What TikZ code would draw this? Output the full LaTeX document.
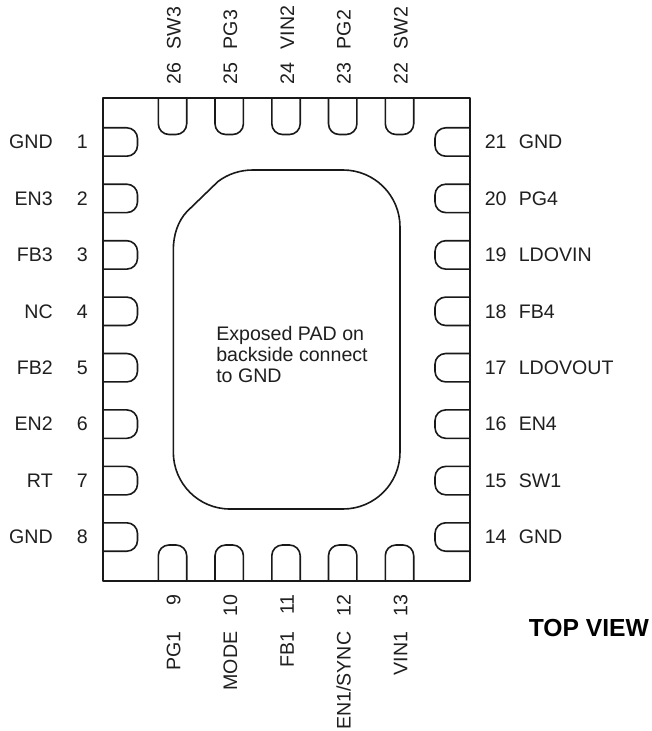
\documentclass[tikz,border=0pt]{standalone}
\usepackage{fontspec}
\setmainfont{Liberation Sans}
\tikzset{
  x=0.75pt,y=-0.75pt,
  ln/.style={draw=black!90,line width=1.2pt,line join=round},
  lbl/.style={font=\fontsize{14.7pt}{15.75pt}\selectfont,text=black!88,inner sep=0pt},
  nameL/.style={lbl,anchor=base east},
  numL/.style={lbl,anchor=base east},
  nameR/.style={lbl,anchor=base west},
  numR/.style={lbl,anchor=base west},
  nameT/.style={lbl,rotate=90,anchor=base west},
  numT/.style={lbl,rotate=90,anchor=base west},
  nameB/.style={lbl,rotate=90,anchor=base east},
  numB/.style={lbl,rotate=90,anchor=base east},
}
\begin{document}
\begin{tikzpicture}
\useasboundingbox (0,0) rectangle (651,731);
\fill[white] (0,0) rectangle (651,731);
\draw[ln,line width=1.5pt] (102.5,98.5) rectangle (470,581);
\foreach \yc/\nm/\na/\nb/\nc in {142/1/GND/21/GND,198.4/2/EN3/20/PG4,254.9/3/FB3/19/LDOVIN,311.3/4/NC/18/FB4,367.7/5/FB2/17/LDOVOUT,424.1/6/EN2/16/EN4,480.6/7/RT/15/SW1,537/8/GND/14/GND}{
  \draw[ln,rounded corners=8pt] (102.5,\yc-14.2) -- (137.5,\yc-14.2) -- (137.5,\yc+14.2) -- (102.5,\yc+14.2);
  \draw[ln,rounded corners=8pt] (470,\yc-14.2) -- (435,\yc-14.2) -- (435,\yc+14.2) -- (470,\yc+14.2);
  \node[numL] (nl\nm) at (88,\yc+6.8) {\nm};
  \node[nameL] (al\nm) at (53,\yc+6.8) {\na};
  \node[numR] (nr\nb) at (484.5,\yc+6.8) {\nb};
  \node[nameR] (ar\nb) at (518.5,\yc+6.8) {\nc};
}
\foreach \xc/\nt/\at/\nb/\ab in {172.5/26/SW3/9/PG1,229.2/25/PG3/10/MODE,286/24/VIN2/11/FB1,342.7/23/PG2/12/{EN1/SYNC},399.5/22/SW2/13/VIN1}{
  \draw[ln,rounded corners=8pt] (\xc-14.2,98.5) -- (\xc-14.2,134.5) -- (\xc+14.2,134.5) -- (\xc+14.2,98.5);
  \draw[ln,rounded corners=8pt] (\xc-14.2,581) -- (\xc-14.2,545) -- (\xc+14.2,545) -- (\xc+14.2,581);
  \node[numT] (nt\nt) at (\xc+8,85) {\nt};
  \node[nameT] (at\nt) at (\xc+8,49.5) {\at};
  \node[numB] (nb\nb) at (\xc+7.8,594) {\nb};
  \node[nameB] (ab\nb) at (\xc+7.8,631.5) {\ab};
}
\draw[ln] (253,170) -- (343,170)
  .. controls (374.5,170) and (400,195.5) .. (400,227)
  -- (400,452)
  .. controls (400,483.5) and (374.5,509) .. (343,509)
  -- (230,509)
  .. controls (198.5,509) and (173.3,483.5) .. (173.3,452)
  -- (173.3,250)
  .. controls (173.3,235) and (178,221) .. (187,211.5)
  -- (218,181.5)
  .. controls (228,174) and (240,170) .. (253,170) -- cycle;
\node[lbl,align=left,anchor=base west] (pad) at (216,382) {Exposed PAD on\\backside connect\\to GND};
\node[lbl,font=\fontsize{18.5pt}{20pt}\bfseries\selectfont,text=black,anchor=base west] (tv) at (528.5,636.7) {TOP VIEW};
\end{tikzpicture}
\end{document}
